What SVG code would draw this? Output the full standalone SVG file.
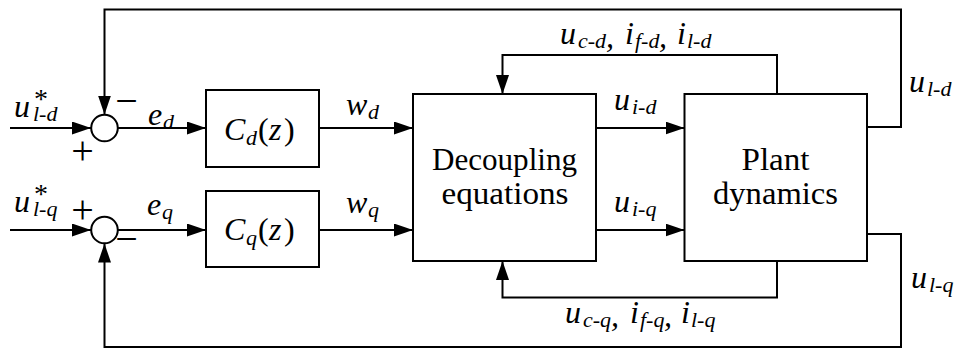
<svg xmlns="http://www.w3.org/2000/svg" width="954" height="349" viewBox="0 0 954 349">
<style>
.ln{fill:none;stroke:#000;stroke-width:2}
.box{fill:#fff;stroke:#000;stroke-width:2}
.m{font-family:"Liberation Serif",serif;font-style:italic;font-size:32px;fill:#000}
.s{font-size:22px}
.up{font-style:normal}
.ast{font-style:normal;font-size:28px}
.r{font-family:"Liberation Serif",serif;font-size:31px;fill:#000;text-anchor:middle}
.sg{font-family:"Liberation Serif",serif;font-size:40px;fill:#000;text-anchor:middle}
</style>
<defs>
<marker id="ah" markerWidth="19" markerHeight="13" refX="19" refY="6.5" orient="auto" markerUnits="userSpaceOnUse">
<path d="M0,0 L19,6.5 L0,13 z" fill="#000"/>
</marker>
</defs>
<rect width="954" height="349" fill="#fff"/>

<g id="connectors">
<path class="ln" d="M10,128 H91" marker-end="url(#ah)"/>
<path class="ln" d="M118,128 H206" marker-end="url(#ah)"/>
<path class="ln" d="M319,128 H413" marker-end="url(#ah)"/>
<path class="ln" d="M596,128 H684.5" marker-end="url(#ah)"/>
<path class="ln" d="M867,127 H901 V9.5 H104.5 V114.5" marker-end="url(#ah)"/>
<path class="ln" d="M10,230 H91" marker-end="url(#ah)"/>
<path class="ln" d="M118,230 H206" marker-end="url(#ah)"/>
<path class="ln" d="M319,230 H413" marker-end="url(#ah)"/>
<path class="ln" d="M596,230 H684.5" marker-end="url(#ah)"/>
<path class="ln" d="M867,234 H901 V347 H104.5 V243.5" marker-end="url(#ah)"/>
<path class="ln" d="M777,94 V55 H502.5 V94" marker-end="url(#ah)"/>
<path class="ln" d="M777,261 V297.5 H502.5 V261" marker-end="url(#ah)"/>
</g>

<g id="sum_d">
<circle class="box" cx="104.5" cy="128" r="13.3"/>
<text class="sg" x="126.5" y="114">−</text>
<text class="sg" x="82.5" y="164">+</text>
</g>
<g id="sum_q">
<circle class="box" cx="104.5" cy="230" r="13.3"/>
<text class="sg" x="82.5" y="223">+</text>
<text class="sg" x="126.5" y="251.5">−</text>
</g>

<g id="Cd">
<rect class="box" x="206" y="90" width="113" height="77"/>
<text class="m" x="224" y="140">C<tspan class="s" x="246" y="145">d</tspan><tspan class="up" x="258" y="140">(</tspan><tspan x="269" y="140">z</tspan><tspan class="up" x="284" y="140">)</tspan></text>
</g>
<g id="Cq">
<rect class="box" x="206" y="191" width="113" height="76"/>
<text class="m" x="224" y="240">C<tspan class="s" x="246" y="245">q</tspan><tspan class="up" x="258" y="240">(</tspan><tspan x="269" y="240">z</tspan><tspan class="up" x="284" y="240">)</tspan></text>
</g>
<g id="decoupling">
<rect class="box" x="413" y="94" width="183" height="167"/>
<text class="r" x="504.5" y="170" textLength="145" lengthAdjust="spacingAndGlyphs">Decoupling</text>
<text class="r" x="505" y="204" textLength="127" lengthAdjust="spacingAndGlyphs">equations</text>
</g>
<g id="plant">
<rect class="box" x="684.5" y="94" width="182.5" height="167"/>
<text class="r" x="775.5" y="170" textLength="68" lengthAdjust="spacingAndGlyphs">Plant</text>
<text class="r" x="775.5" y="204" textLength="125" lengthAdjust="spacingAndGlyphs">dynamics</text>
</g>

<g id="labels">
<text class="m" x="14" y="117">u<tspan class="s" x="33" y="121">l-d</tspan><tspan class="ast" x="34" y="108">*</tspan></text>
<text class="m" x="14" y="212">u<tspan class="s" x="33" y="216">l-q</tspan><tspan class="ast" x="34" y="203">*</tspan></text>
<text class="m" x="148" y="125">e<tspan class="s" x="163" y="129">d</tspan></text>
<text class="m" x="147" y="215">e<tspan class="s" x="162" y="219">q</tspan></text>
<text class="m" x="346" y="115">w<tspan class="s" x="368" y="119">d</tspan></text>
<text class="m" x="346" y="213">w<tspan class="s" x="368" y="217">q</tspan></text>
<text class="m" x="614" y="110">u<tspan class="s" x="632" y="114">i-d</tspan></text>
<text class="m" x="614" y="212">u<tspan class="s" x="632" y="216">i-q</tspan></text>
<text class="m" x="560" y="44">u<tspan class="s" x="578" y="48">c-d</tspan><tspan x="606" y="47">,</tspan><tspan x="625" y="44">i</tspan><tspan class="s" x="635" y="48">f-d</tspan><tspan x="659" y="47">,</tspan><tspan x="677" y="44">i</tspan><tspan class="s" x="687" y="48">l-d</tspan></text>
<text class="m" x="565" y="323">u<tspan class="s" x="583" y="327">c-q</tspan><tspan x="611" y="326">,</tspan><tspan x="630" y="323">i</tspan><tspan class="s" x="640" y="327">f-q</tspan><tspan x="664" y="326">,</tspan><tspan x="681" y="323">i</tspan><tspan class="s" x="691" y="327">l-q</tspan></text>
<text class="m" x="909" y="92">u<tspan class="s" x="927" y="96">l-d</tspan></text>
<text class="m" x="911" y="288">u<tspan class="s" x="929" y="292">l-q</tspan></text>
</g>
</svg>
